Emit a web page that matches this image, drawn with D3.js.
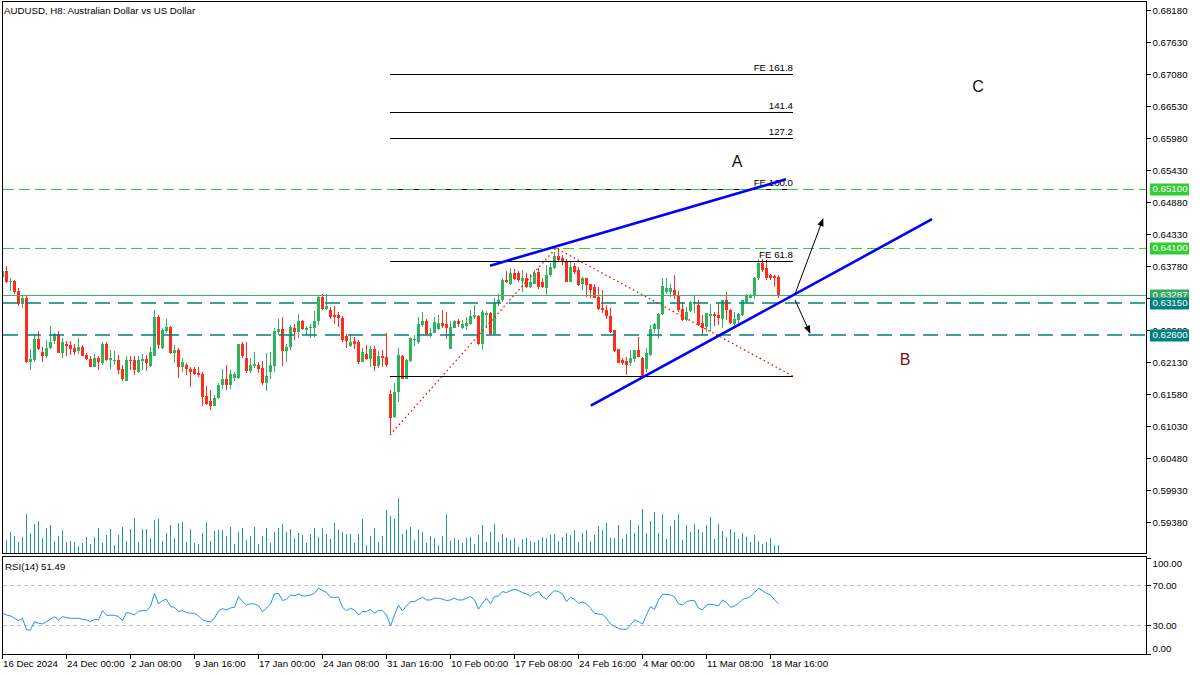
<!DOCTYPE html>
<html><head><meta charset="utf-8">
<script src="https://cdn.jsdelivr.net/npm/d3@7"></script>
<style>
body{margin:0;background:#fff}
svg{display:block}
text{font-family:"Liberation Sans",Arial,sans-serif}
</style>
</head><body>
<svg id="c" width="1200" height="675"></svg>
<script>
// ---------------- DATA ----------------
const title = "AUDUSD, H8:  Australian Dollar vs US Dollar";
const rsiTitle = "RSI(14) 51.49";
const opens = [
0.6360,0.6369,0.6350,0.6353,0.6335,0.6313,0.6323,0.6214,0.6216,0.6253,
0.6231,0.6224,0.6237,0.6250,0.6261,0.6229,0.6244,0.6242,0.6237,0.6232,
0.6239,0.6225,0.6219,0.6205,0.6220,0.6211,0.6244,0.6216,0.6216,0.6216,
0.6201,0.6181,0.6217,0.6217,0.6197,0.6215,0.6219,0.6206,0.6224,0.6291,
0.6238,0.6267,0.6274,0.6228,0.6234,0.6204,0.6208,0.6201,0.6201,0.6195,
0.6193,0.6155,0.6146,0.6138,0.6151,0.6174,0.6184,0.6174,0.6186,0.6186,
0.6244,0.6220,0.6198,0.6206,0.6208,0.6203,0.6177,0.6196,0.6206,0.6265,
0.6270,0.6232,0.6239,0.6271,0.6265,0.6284,0.6269,0.6271,0.6272,0.6283,
0.6325,0.6304,0.6303,0.6294,0.6294,0.6289,0.6258,0.6240,0.6249,0.6248,
0.6214,0.6227,0.6219,0.6236,0.6207,0.6224,0.6222,0.6158,0.6119,0.6161,
0.6224,0.6185,0.6215,0.6252,0.6247,0.6277,0.6284,0.6262,0.6264,0.6270,
0.6281,0.6278,0.6236,0.6272,0.6284,0.6272,0.6276,0.6279,0.6291,0.6293,
0.6244,0.6294,0.6297,0.6261,0.6315,0.6319,0.6354,0.6347,0.6367,0.6366,
0.6353,0.6358,0.6343,0.6348,0.6368,0.6350,0.6340,0.6363,0.6374,0.6396,
0.6392,0.6387,0.6351,0.6379,0.6371,0.6347,0.6357,0.6347,0.6343,0.6325,
0.6306,0.6303,0.6292,0.6268,0.6235,0.6216,0.6215,0.6211,0.6219,0.6234,
0.6221,0.6202,0.6225,0.6270,0.6270,0.6295,0.6333,0.6334,0.6337,0.6328,
0.6304,0.6285,0.6301,0.6315,0.6311,0.6280,0.6274,0.6293,0.6295,0.6294,
0.6288,0.6320,0.6303,0.6278,0.6286,0.6294,0.6317,0.6324,0.6327,0.6357,
0.6383,0.6374,0.6363,0.6361,0.6360];
const highs = [
0.6371,0.6378,0.6357,0.6354,0.6341,0.6327,0.6328,0.6236,0.6260,0.6266,
0.6239,0.6251,0.6276,0.6264,0.6267,0.6254,0.6249,0.6249,0.6244,0.6255,
0.6242,0.6228,0.6223,0.6227,0.6223,0.6247,0.6247,0.6234,0.6233,0.6225,
0.6208,0.6224,0.6224,0.6224,0.6223,0.6227,0.6225,0.6239,0.6303,0.6294,
0.6271,0.6288,0.6275,0.6243,0.6237,0.6220,0.6211,0.6205,0.6205,0.6204,
0.6197,0.6172,0.6165,0.6157,0.6177,0.6201,0.6208,0.6200,0.6197,0.6245,
0.6247,0.6247,0.6220,0.6230,0.6214,0.6215,0.6228,0.6231,0.6271,0.6288,
0.6291,0.6245,0.6277,0.6279,0.6295,0.6286,0.6276,0.6278,0.6301,0.6327,
0.6331,0.6330,0.6307,0.6310,0.6299,0.6292,0.6261,0.6260,0.6257,0.6251,
0.6237,0.6243,0.6240,0.6240,0.6233,0.6234,0.6263,0.6165,0.6177,0.6237,
0.6225,0.6219,0.6255,0.6260,0.6291,0.6299,0.6288,0.6272,0.6290,0.6294,
0.6302,0.6300,0.6283,0.6286,0.6288,0.6286,0.6290,0.6303,0.6311,0.6294,
0.6303,0.6301,0.6299,0.6324,0.6330,0.6358,0.6369,0.6374,0.6373,0.6369,
0.6371,0.6366,0.6364,0.6371,0.6375,0.6357,0.6380,0.6383,0.6403,0.6409,
0.6397,0.6391,0.6386,0.6383,0.6377,0.6360,0.6358,0.6348,0.6348,0.6343,
0.6337,0.6311,0.6306,0.6268,0.6236,0.6221,0.6222,0.6234,0.6234,0.6257,
0.6222,0.6237,0.6277,0.6280,0.6297,0.6358,0.6357,0.6347,0.6363,0.6335,
0.6316,0.6307,0.6318,0.6329,0.6320,0.6294,0.6297,0.6313,0.6299,0.6314,
0.6320,0.6334,0.6304,0.6300,0.6297,0.6320,0.6331,0.6330,0.6360,0.6391,
0.6391,0.6389,0.6364,0.6362,0.6362];
const lows = [
0.6358,0.6349,0.6336,0.6331,0.6310,0.6306,0.6211,0.6199,0.6214,0.6234,
0.6214,0.6221,0.6235,0.6245,0.6228,0.6220,0.6224,0.6225,0.6225,0.6227,
0.6223,0.6216,0.6204,0.6204,0.6200,0.6209,0.6215,0.6202,0.6208,0.6192,
0.6180,0.6180,0.6200,0.6191,0.6195,0.6200,0.6198,0.6204,0.6223,0.6236,
0.6235,0.6263,0.6227,0.6212,0.6186,0.6197,0.6191,0.6171,0.6191,0.6188,
0.6138,0.6139,0.6131,0.6137,0.6150,0.6167,0.6165,0.6167,0.6181,0.6185,
0.6221,0.6194,0.6194,0.6203,0.6194,0.6174,0.6164,0.6185,0.6197,0.6260,
0.6207,0.6214,0.6234,0.6251,0.6254,0.6269,0.6260,0.6255,0.6257,0.6277,
0.6303,0.6302,0.6288,0.6278,0.6274,0.6248,0.6237,0.6239,0.6235,0.6210,
0.6213,0.6217,0.6205,0.6198,0.6203,0.6205,0.6205,0.6088,0.6118,0.6145,
0.6184,0.6184,0.6214,0.6240,0.6245,0.6274,0.6260,0.6257,0.6263,0.6268,
0.6272,0.6253,0.6235,0.6271,0.6274,0.6270,0.6268,0.6277,0.6288,0.6242,
0.6234,0.6271,0.6260,0.6260,0.6309,0.6317,0.6349,0.6345,0.6354,0.6351,
0.6334,0.6340,0.6341,0.6347,0.6339,0.6340,0.6327,0.6360,0.6373,0.6386,
0.6380,0.6350,0.6350,0.6364,0.6344,0.6337,0.6325,0.6323,0.6323,0.6303,
0.6297,0.6288,0.6264,0.6231,0.6211,0.6208,0.6191,0.6207,0.6214,0.6222,
0.6188,0.6197,0.6223,0.6263,0.6253,0.6294,0.6330,0.6325,0.6322,0.6300,
0.6283,0.6283,0.6299,0.6297,0.6276,0.6260,0.6265,0.6265,0.6276,0.6277,
0.6272,0.6286,0.6278,0.6274,0.6277,0.6293,0.6315,0.6323,0.6322,0.6354,
0.6368,0.6354,0.6354,0.6343,0.6323];
const closes = [
0.6370,0.6350,0.6353,0.6334,0.6313,0.6324,0.6214,0.6219,0.6253,0.6235,
0.6224,0.6237,0.6247,0.6261,0.6229,0.6247,0.6241,0.6236,0.6231,0.6239,
0.6224,0.6218,0.6205,0.6220,0.6214,0.6244,0.6216,0.6220,0.6217,0.6200,
0.6185,0.6216,0.6215,0.6200,0.6217,0.6219,0.6212,0.6231,0.6291,0.6243,
0.6268,0.6274,0.6228,0.6234,0.6204,0.6214,0.6201,0.6197,0.6193,0.6191,
0.6154,0.6142,0.6138,0.6151,0.6174,0.6184,0.6174,0.6193,0.6193,0.6244,
0.6224,0.6198,0.6208,0.6210,0.6201,0.6177,0.6190,0.6208,0.6267,0.6270,
0.6232,0.6239,0.6274,0.6265,0.6284,0.6270,0.6272,0.6274,0.6283,0.6325,
0.6304,0.6310,0.6291,0.6291,0.6289,0.6251,0.6249,0.6248,0.6245,0.6214,
0.6230,0.6219,0.6236,0.6207,0.6224,0.6221,0.6208,0.6118,0.6161,0.6225,
0.6185,0.6217,0.6254,0.6253,0.6278,0.6284,0.6261,0.6264,0.6282,0.6280,
0.6276,0.6272,0.6274,0.6284,0.6278,0.6278,0.6281,0.6293,0.6294,0.6244,
0.6299,0.6298,0.6261,0.6315,0.6320,0.6354,0.6350,0.6366,0.6356,0.6354,
0.6358,0.6343,0.6351,0.6367,0.6343,0.6343,0.6363,0.6377,0.6396,0.6389,
0.6387,0.6351,0.6377,0.6368,0.6346,0.6357,0.6346,0.6337,0.6324,0.6304,
0.6302,0.6292,0.6265,0.6233,0.6212,0.6211,0.6209,0.6220,0.6234,0.6222,
0.6188,0.6228,0.6270,0.6278,0.6295,0.6344,0.6340,0.6340,0.6328,0.6303,
0.6285,0.6300,0.6316,0.6316,0.6277,0.6271,0.6297,0.6295,0.6292,0.6289,
0.6320,0.6303,0.6281,0.6287,0.6295,0.6320,0.6327,0.6328,0.6358,0.6384,
0.6371,0.6357,0.6358,0.6358,0.63287];
const volumes = [
3600,1950,3200,2600,1700,2350,5850,3000,4350,4800,
2250,3750,4200,1800,2600,3450,1650,1850,1650,1050,
1500,2400,1350,2400,3750,1500,2700,3600,1200,2700,
3900,1800,3600,5250,1650,3600,3600,2250,4950,5100,
1800,3000,4200,2250,4550,4650,1650,3600,1500,1350,
3000,4650,1800,3300,3450,3500,2600,3900,1350,3150,
3750,1950,2550,3900,1350,2550,3750,1500,3150,3750,
4350,3150,3600,2250,3000,2700,1500,2850,3750,2400,
3750,2850,2100,4500,3450,3150,2850,2850,1500,2850,
5100,1200,2550,3750,1650,2550,6450,5550,5100,8250,
2850,3450,3900,1950,3450,3150,1500,2550,2250,1200,
2550,5850,1800,2250,1950,1500,2250,2400,1350,2700,
4200,1650,3150,4350,1650,2850,2250,1950,2250,900,
2100,2250,1800,1650,1950,2400,2250,2700,2850,1800,
2400,3000,2700,3450,1650,3000,3450,1800,2700,4050,
3450,4500,2250,2250,4200,2100,2850,4950,3000,4200,
6600,3000,4800,6150,3000,5850,2100,4050,4950,5850,
1950,4200,3150,4350,3600,3150,4200,5400,2100,4350,
3300,2400,3600,3150,2100,3000,2400,1650,2700,1800,
1350,1650,2250,1200,1200];
const rsi = [
41.9,40.2,39.3,36.9,34.6,36.9,25.4,25.4,33.6,32.0,
31.3,33.6,35.9,38.6,35.3,38.6,37.6,36.9,36.9,36.9,
35.9,35.3,33.6,35.9,35.3,44.5,39.9,39.9,39.9,38.6,
34.6,42.6,41.9,40.2,43.9,44.5,44.5,48.5,61.7,51.2,
54.5,55.8,48.5,47.8,43.6,44.5,42.6,41.9,41.9,39.3,
35.3,34.0,33.3,36.9,44.5,46.5,45.2,47.2,47.8,58.4,
53.5,50.2,51.2,51.2,49.2,43.6,46.9,51.2,61.1,61.7,
54.5,55.8,60.1,59.1,61.1,59.1,59.1,60.1,61.7,66.7,
64.4,62.7,57.8,57.8,57.8,47.8,44.5,46.9,45.2,40.2,
43.6,43.6,45.9,41.9,44.5,44.5,40.2,29.3,40.2,49.8,
44.2,49.2,53.5,53.5,55.8,57.8,55.1,55.1,56.8,56.8,
55.8,54.5,55.1,56.8,55.1,55.1,56.8,58.4,55.1,45.9,
51.8,56.8,51.2,58.4,59.1,63.4,62.4,64.4,65.7,64.4,
62.4,61.1,59.1,61.7,63.4,58.4,55.8,61.1,64.4,63.4,
61.1,53.5,57.8,55.8,51.8,53.1,51.2,46.9,41.9,41.2,
40.9,36.9,31.3,28.7,26.7,26.0,26.0,30.3,35.3,33.6,
31.3,40.2,48.5,45.9,55.1,60.7,60.7,60.1,58.4,51.2,
50.2,53.5,54.5,54.5,46.9,45.2,50.2,50.8,50.2,49.2,
55.1,52.5,47.8,49.2,51.8,55.8,56.8,58.4,62.4,66.7,
64.4,61.7,60.1,55.1,51.49];
const xTickBars = [0,16,32,48,64,80,96,112,128,144,160,176,192];
const xTickLabels = ["16 Dec 2024","24 Dec 00:00","2 Jan 08:00","9 Jan 16:00","17 Jan 00:00","24 Jan 08:00","31 Jan 16:00","10 Feb 00:00","17 Feb 08:00","24 Feb 16:00","4 Mar 00:00","11 Mar 08:00","18 Mar 16:00"];
const priceTicks = [0.68180,0.67630,0.67080,0.66530,0.65980,0.65430,0.64880,0.64330,0.63780,0.63230,0.62680,0.62130,0.61580,0.61030,0.60480,0.59930,0.59380];
const rsiTicks = [100,70,30,0];
const rsiLevels = [70,30];
const levelPrices = [0.65100,0.64100,0.63287,0.63150,0.62600];
const feBars = [97,138.5,197.75];
const fePrices = [0.6088,0.6409,0.6189];
const feLevels = [0.61893,0.63868,0.65105,0.65981,0.66428,0.67081];
const feLabels = ["","FE 61.8","FE 100.0","127.2","141.4","FE 161.8"];
const trendUpper = [[122,0.63788],[196,0.65272]];
const trendLower = [[147.2,0.61383],[232.5,0.64586]];
const arrowUp = [[198.25,0.63302],[205.25,0.6459]];
const arrowDown = [[198.25,0.63199],[202,0.62632]];
const waveLabels = ["A","B","C"];
const waveBars = [183.75,225.75,244];
const wavePrices = [0.65483,0.62082,0.66771];

// ---------------- STYLE ----------------
const FS = 9.7;
const UP = "#2fb35c", DN = "#ff2c1c", VOL = "#1f9e8f";
const levelStyle = [
  {stroke:"#32cd32", dash:"11,5", w:1, box:"#32cd32"},
  {stroke:"#32cd32", dash:"11,5", w:1, box:"#32cd32"},
  {stroke:"#3cb371", dash:null,   w:1, box:"#3aa860"},
  {stroke:"#008080", dash:"15,8", w:1.5, box:"#008080"},
  {stroke:"#008080", dash:"15,8", w:1.5, box:"#008080"}
];

// ---------------- SCALES ----------------
const svg = d3.select("#c");
const x = d3.scaleLinear().domain([0,286]).range([2,1146]);
const y = d3.scaleLinear().domain([0.59380,0.68180]).range([522.3,10]);
const yR = d3.scaleLinear().domain([0,100]).range([655.5,554.7]);
const yV = d3.scaleLinear().domain([0,d3.max(volumes)]).range([553,498]);
const cr = v => Math.round(v)+0.5;

const defs = svg.append("defs");
defs.append("clipPath").attr("id","cm").append("rect").attr("x",3).attr("y",2).attr("width",1143).attr("height",551);
defs.append("clipPath").attr("id","cr").append("rect").attr("x",3).attr("y",557).attr("width",1143).attr("height",97);
defs.append("marker").attr("id","ah").attr("viewBox","0 0 10 10").attr("refX",9).attr("refY",5)
  .attr("markerWidth",9).attr("markerHeight",8).attr("orient","auto")
  .append("path").attr("d","M0,1 L10,5 L0,9 z").attr("fill","#000");

const main = svg.append("g").attr("clip-path","url(#cm)");
const idx = d3.range(closes.length);

// volumes
main.append("g").attr("shape-rendering","crispEdges").selectAll("line").data(idx).join("line")
  .attr("x1",i=>x(i)+0.5).attr("x2",i=>x(i)+0.5)
  .attr("y1",yV(0)).attr("y2",i=>yV(volumes[i]))
  .attr("stroke",VOL).attr("stroke-width",1);

// candles
const cg = main.append("g").attr("shape-rendering","crispEdges");
cg.selectAll("line").data(idx).join("line")
  .attr("x1",i=>x(i)+0.5).attr("x2",i=>x(i)+0.5)
  .attr("y1",i=>y(highs[i])).attr("y2",i=>y(lows[i]))
  .attr("stroke",i=>closes[i]>=opens[i]?UP:DN);
cg.selectAll("rect").data(idx).join("rect")
  .attr("x",i=>x(i)-1).attr("width",3)
  .attr("y",i=>y(Math.max(opens[i],closes[i])))
  .attr("height",i=>Math.max(1,Math.abs(y(opens[i])-y(closes[i]))))
  .attr("fill",i=>closes[i]>=opens[i]?UP:DN);

// FE levels (black)
const feX0 = x(feBars[0]), feX1 = x(feBars[2]);
main.append("g").attr("shape-rendering","crispEdges").selectAll("line").data(feLevels).join("line")
  .attr("x1",feX0).attr("x2",feX1).attr("y1",d=>cr(y(d))).attr("y2",d=>cr(y(d)))
  .attr("stroke","#000");
main.append("g").selectAll("text").data(feLevels).join("text")
  .attr("x",feX1).attr("y",d=>Math.round(y(d))-3).attr("text-anchor","end")
  .attr("font-size",FS).attr("fill","#000").text((d,i)=>feLabels[i]);

// horizontal levels
main.append("g").selectAll("line").data(levelPrices).join("line")
  .attr("x1",3).attr("x2",1146)
  .attr("y1",(d,i)=>levelStyle[i].w>1?Math.round(y(d)):cr(y(d)))
  .attr("y2",(d,i)=>levelStyle[i].w>1?Math.round(y(d)):cr(y(d)))
  .attr("stroke",(d,i)=>levelStyle[i].stroke).attr("stroke-width",(d,i)=>levelStyle[i].w)
  .attr("shape-rendering",(d,i)=>levelStyle[i].w>1?"auto":"crispEdges")
  .attr("stroke-dasharray",(d,i)=>levelStyle[i].dash);

// red dotted FE path
main.append("path")
  .attr("d",d3.line()(feBars.map((b,i)=>[x(b),y(fePrices[i])])))
  .attr("fill","none").attr("stroke","#ff0000").attr("stroke-width",1.3).attr("stroke-dasharray","1.5,3");

// trend lines
[trendUpper,trendLower].forEach(t=>{
  main.append("line").attr("x1",x(t[0][0])).attr("y1",y(t[0][1])).attr("x2",x(t[1][0])).attr("y2",y(t[1][1]))
    .attr("stroke","#0000ff").attr("stroke-width",2.6);
});

// arrows
[arrowUp,arrowDown].forEach(a=>{
  main.append("line").attr("x1",x(a[0][0])).attr("y1",y(a[0][1])).attr("x2",x(a[1][0])).attr("y2",y(a[1][1]))
    .attr("stroke","#000").attr("stroke-width",1).attr("marker-end","url(#ah)");
});

// wave labels
main.append("g").selectAll("text").data(waveLabels).join("text")
  .attr("x",(d,i)=>x(waveBars[i])).attr("y",(d,i)=>y(wavePrices[i])).attr("text-anchor","middle")
  .attr("font-size",16).attr("fill",(d,i)=>i===1?"#6e1010":"#111").text(d=>d);

// frames
svg.append("rect").attr("x",2.5).attr("y",1.5).attr("width",1144).attr("height",552)
  .attr("fill","none").attr("stroke","#000").attr("shape-rendering","crispEdges");
svg.append("rect").attr("x",2.5).attr("y",556.5).attr("width",1144).attr("height",98)
  .attr("fill","none").attr("stroke","#000").attr("shape-rendering","crispEdges");

// title
svg.append("text").attr("x",4).attr("y",14).attr("font-size",FS).attr("fill","#000").text(title);

// price axis
const pa = svg.append("g").attr("transform","translate(1146.5,0)")
  .call(d3.axisRight(y).tickValues(priceTicks).tickFormat(d3.format(".5f")).tickSize(4).tickPadding(2));
pa.select(".domain").remove();
pa.selectAll(".tick line").attr("stroke","#000").attr("shape-rendering","crispEdges");
pa.selectAll(".tick").attr("transform",d=>`translate(0,${cr(y(d))})`);
pa.selectAll(".tick text").attr("font-size",FS).attr("font-family","Liberation Sans, Arial, sans-serif").attr("fill","#000");

// level boxes
const lb = svg.append("g");
levelPrices.forEach((p,i)=>{
  const yy = Math.round(y(p));
  lb.append("rect").attr("x",1150).attr("y",yy-5.5).attr("width",39).attr("height",12)
    .attr("fill",levelStyle[i].box);
  lb.append("text").attr("x",1152.5).attr("y",yy).attr("dy","0.36em").attr("font-size",FS)
    .attr("fill","#fff").text(d3.format(".5f")(p));
});

// RSI panel
const rg = svg.append("g").attr("clip-path","url(#cr)");
rg.append("g").attr("shape-rendering","crispEdges").selectAll("line").data(rsiLevels).join("line")
  .attr("x1",3).attr("x2",1146).attr("y1",d=>cr(yR(d))).attr("y2",d=>cr(yR(d)))
  .attr("stroke","#c0c0c0").attr("stroke-dasharray","4,3");
rg.append("path").attr("d",d3.line().x((d,i)=>x(i)+0.5).y(d=>yR(d))(rsi))
  .attr("fill","none").attr("stroke","#1e90ff").attr("stroke-width",1);
svg.append("text").attr("x",5).attr("y",569.5).attr("font-size",FS).attr("fill","#000").text(rsiTitle);

const ra = svg.append("g").attr("transform","translate(1146.5,0)")
  .call(d3.axisRight(yR).tickValues(rsiTicks).tickFormat(d3.format(".2f")).tickSize(4).tickPadding(2));
ra.select(".domain").remove();
ra.selectAll(".tick").attr("transform",d=>`translate(0,${cr(Math.max(557.5,Math.min(653.5,yR(d))))})`);
ra.selectAll(".tick line").attr("stroke","#000").attr("shape-rendering","crispEdges");
ra.selectAll(".tick text").attr("font-size",FS).attr("font-family","Liberation Sans, Arial, sans-serif").attr("fill","#000")
  .attr("dy",d=>d===100?"0.85em":(d===0?"-0.3em":"0.36em"));

// time axis
const ta = svg.append("g").attr("transform","translate(0,654.5)")
  .call(d3.axisBottom(x).tickValues(xTickBars).tickFormat((d,i)=>xTickLabels[i]).tickSize(4).tickPadding(2));
ta.select(".domain").remove();
ta.selectAll(".tick").attr("transform",d=>`translate(${x(d)+0.5},0)`);
ta.selectAll(".tick line").attr("stroke","#000").attr("shape-rendering","crispEdges");
ta.selectAll(".tick text").attr("font-size",FS).attr("font-family","Liberation Sans, Arial, sans-serif").attr("fill","#000")
  .attr("text-anchor","start").attr("x",0.5).attr("y",12.5).attr("dy",0);
</script>
</body></html>
